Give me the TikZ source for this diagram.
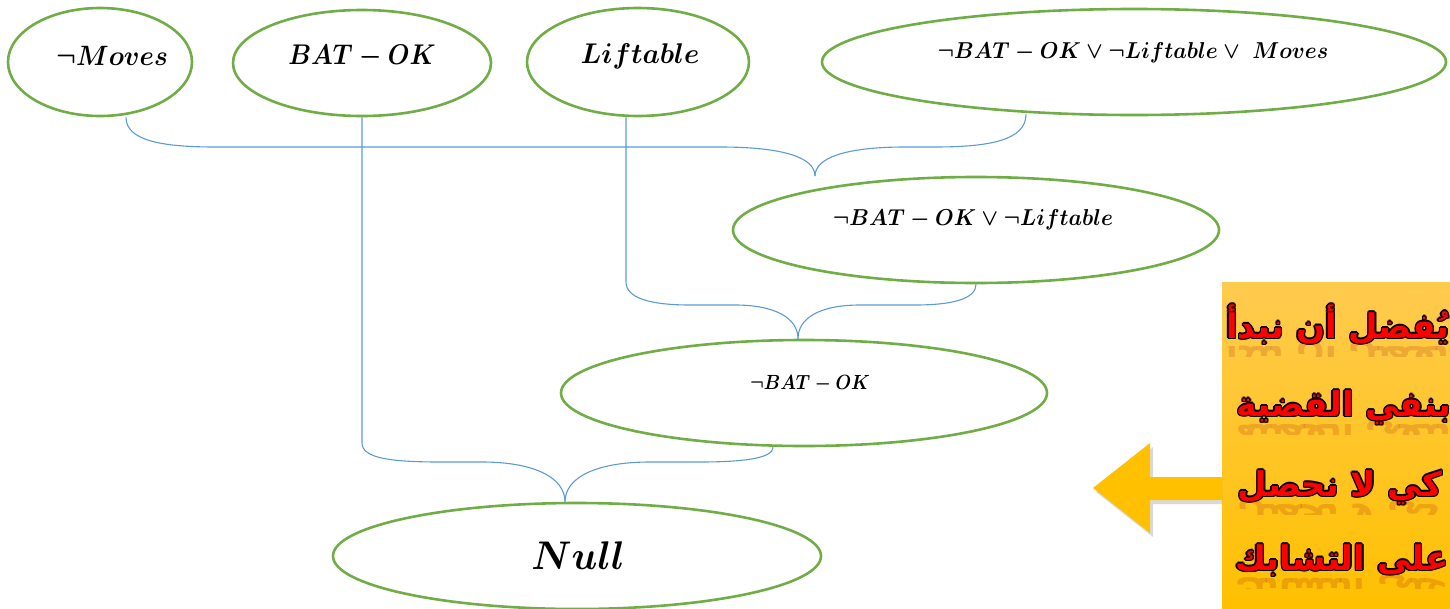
\documentclass[tikz,border=0pt]{standalone}
\usepackage{graphicx}
\usepackage{fontspec}
\usetikzlibrary{calc,shapes.geometric}
\newfontfamily\arabicfont[Script=Arabic]{DejaVu Sans}
\TeXXeTstate=1
\definecolor{elg}{HTML}{70AD47}
\definecolor{lnb}{HTML}{5B9BD5}
\definecolor{gold}{HTML}{FFC000}
\definecolor{goldlt}{HTML}{FFCB4F}
\definecolor{artred}{HTML}{FF0000}
\newsavebox\arbox
\newcommand\outlined[1]{\setbox\arbox\hbox{#1}%
 \makebox[\wd\arbox][l]{%
  \rlap{\color{black}\kern1.4pt\usebox\arbox}%
  \rlap{\color{black}\kern-1.4pt\usebox\arbox}%
  \rlap{\color{black}\raisebox{1.4pt}{\usebox\arbox}}%
  \rlap{\color{black}\raisebox{-1.4pt}{\usebox\arbox}}%
  \rlap{\color{black}\kern1pt\raisebox{1pt}{\usebox\arbox}}%
  \rlap{\color{black}\kern-1pt\raisebox{1pt}{\usebox\arbox}}%
  \rlap{\color{black}\kern1pt\raisebox{-1pt}{\usebox\arbox}}%
  \rlap{\color{black}\kern-1pt\raisebox{-1pt}{\usebox\arbox}}%
  {\color{artred}\usebox\arbox}}}
\newcommand\mth[3]{\scalebox{#1}[#2]{\boldmath$#3$}}
\begin{document}
\begin{tikzpicture}[x=1pt,y=-1pt,
  ell/.style={ellipse, draw=elg, line width=2.6pt, inner sep=0pt},
  lbl/.style={inner sep=0pt, anchor=base},
  link/.style={draw=lnb, line width=1.1pt},
  arab/.style={inner sep=0pt, anchor=base, font=\arabicfont\bfseries\fontsize{34}{38}\selectfont},
  refl/.style={inner sep=0pt, anchor=base, yscale=-1, transform shape, opacity=0.16, text=red!60!black, font=\arabicfont\bfseries\fontsize{34}{38}\selectfont},
]
\useasboundingbox (0,0) rectangle (1450,608);

% ellipses
\node[ell, minimum width=184pt, minimum height=108pt] (mv) at (100,62) {};
\node[ell, minimum width=258pt, minimum height=106pt] (bat) at (362,63) {};
\node[ell, minimum width=222pt, minimum height=108pt] (lift) at (638,62) {};
\node[ell, minimum width=624pt, minimum height=106pt] (tr) at (1134,62) {};
\node[ell, minimum width=486pt, minimum height=106pt] (e5) at (976,230) {};
\node[ell, minimum width=486pt, minimum height=106pt] (e6) at (804,393) {};
\node[ell, minimum width=488pt, minimum height=106pt] (nul) at (577,556) {};

% labels
\begin{scope}
\clip (8,8) rectangle (166,116);
\node[lbl, anchor=base west] (mvt) at (56,65) {\mth{2.6}{2.8}{\neg Moves}};
\end{scope}
\node[lbl] (batt) at (362,64) {\mth{2.5}{2.85}{BAT-OK}};
\node[lbl] (liftt) at (640,63) {\mth{2.75}{2.85}{Liftable}};
\node[lbl] (trt) at (1133,58) {\mth{2.15}{2.3}{\neg BAT-OK\vee\neg Liftable\vee\ Moves}};
\node[lbl] (e5t) at (973,225) {\mth{2.15}{2.3}{\neg BAT-OK\vee\neg Liftable}};
\node[lbl] (e6t) at (810,389) {\mth{1.8}{2.05}{\neg BAT-OK}};
\node[lbl] (nult) at (578,569) {\mth{3.8}{4.0}{Null}};

% brace tips
\coordinate (t1) at (815,176);
\coordinate (t2) at ($(e6.north)+(-6,0)$);
\coordinate (t3) at ($(nul.north)+(-12,0)$);

% connectors
\draw[link] ($(mv.south)+(26,0)$) .. controls (126,140) and (160,147) .. (215,147) -- (720,147)
   .. controls (785,147) and (815,158) .. (t1);
\draw[link] ($(tr.south)+(-108,-2)$) .. controls (1026,140) and (990,147) .. (935,147) -- (905,147)
   .. controls (845,147) and (815,158) .. (t1);
\draw[link] ($(lift.south)+(-12,0)$) -- (626,282) .. controls (626,298) and (650,305) .. (690,305) -- (735,305)
   .. controls (775,305) and (798,318) .. (t2);
\draw[link] (e5.south) .. controls (976,298) and (955,305) .. (915,305) -- (860,305)
   .. controls (820,305) and (798,318) .. (t2);
\draw[link] (bat.south) -- (362,443) .. controls (362,458) and (390,462) .. (440,462) -- (482,462)
   .. controls (535,462) and (565,478) .. (t3);
\draw[link] ($(e6.south)+(-31,0)$) .. controls (773,458) and (745,462) .. (700,462) -- (650,462)
   .. controls (595,462) and (565,478) .. (t3);

% note box
\node[inner sep=0pt, top color=goldlt, bottom color=gold, minimum width=228pt, minimum height=326pt, anchor=north west] (box) at (1222,282) {};
\coordinate (atip) at (1093,488);
\fill[black, opacity=0.15] ($(atip)+(3,4)$) -- (1153,447) -- (1153,481) -- (1222,481) -- (1222,504) -- (1153,504) -- (1153,537) -- cycle;
\fill[gold] (atip) -- (1150,443) -- (1150,477) -- (box.west |- 0,477) -- (box.west |- 0,500) -- (1150,500) -- (1150,533) -- cycle;

\begin{scope}
\clip (1222,282) rectangle (1450,608);
\node[arab] (l1) at (1338,338) {\outlined{\beginR يُفضل أن نبدأ\endR}};
\node[arab] (l2) at (1344,416) {\outlined{\beginR بنفي القضية\endR}};
\node[arab] (l3) at (1340,496) {\outlined{\beginR كي لا نحصل\endR}};
\node[arab] (l4) at (1342,570) {\outlined{\beginR على التشابك\endR}};
\end{scope}
\begin{scope}
\clip (1222,342) rectangle (1450,356);
\node[refl] (r1) at (1338,346) {\beginR يُفضل أن نبدأ\endR};
\end{scope}
\begin{scope}
\clip (1222,420) rectangle (1450,434);
\node[refl] (r2) at (1344,424) {\beginR بنفي القضية\endR};
\end{scope}
\begin{scope}
\clip (1222,500) rectangle (1450,514);
\node[refl] (r3) at (1340,504) {\beginR كي لا نحصل\endR};
\end{scope}
\begin{scope}
\clip (1222,574) rectangle (1450,588);
\node[refl] (r4) at (1342,578) {\beginR على التشابك\endR};
\end{scope}
\end{tikzpicture}
\end{document}
